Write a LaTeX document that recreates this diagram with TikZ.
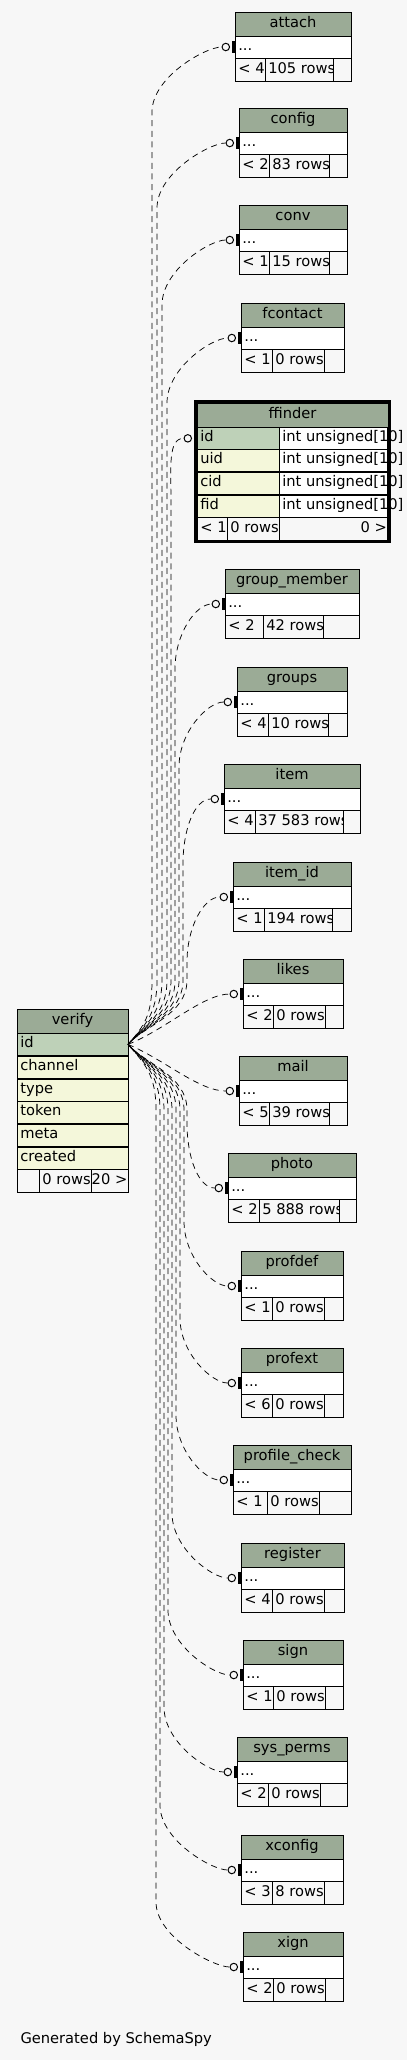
\documentclass[tikz,border=0pt]{standalone}
\usepackage{fontspec}
\setmainfont{DejaVu Sans}

\definecolor{pagebg}{HTML}{F7F7F7}
\definecolor{tblhead}{HTML}{9BAB96}
\definecolor{pkcol}{HTML}{BED1B8}
\definecolor{idxcol}{HTML}{F4F7DA}

\tikzstyle{cell} = [draw=black, line width=0.75pt, inner xsep=2.5pt, inner ysep=0pt, outer sep=0pt, anchor=north west, text height=7.5pt, text depth=2.25pt]
\tikzstyle{hd} = [cell, fill=tblhead, minimum height=18pt]
\tikzstyle{dots} = [cell, fill=white, minimum height=16.5pt]
\tikzstyle{ft} = [cell, fill=pagebg, minimum height=17.25pt]
\tikzstyle{keycol} = [cell, fill=pkcol, minimum height=17pt]
\tikzstyle{col} = [cell, fill=idxcol, minimum height=17pt]
\tikzstyle{typecol} = [cell, fill=white, minimum height=17pt]
\tikzstyle{rel} = [line width=0.55pt, dash pattern=on 4.5pt off 3.5pt]
\tikzstyle{crowo} = [line width=0.75pt, fill=pagebg]

\begin{document}
\begin{tikzpicture}[x=0.75pt, y=-0.75pt, font=\fontsize{11}{13}\selectfont]
  \fill[pagebg] (0,0) rectangle (407,2060);
  \useasboundingbox (0,0) rectangle (407,2060);

  % tables with columns hidden
  \foreach \n/\lbl/\x/\y/\w/\ca/\cb/\lt/\rows [evaluate=\w as \tw using \w*0.75-5, evaluate=\ca as \ta using \ca*0.75-5, evaluate=\cb as \tb using \cb*0.75-5, evaluate=\w as \rw using (\w-\ca-\cb)*0.75] in {
      attach/attach/235/12/116/30/68/< 4/105 rows,
      config/config/239/108/108/30/60/< 2/83 rows,
      conv/conv/239/205/108/30/60/< 1/15 rows,
      fcontact/fcontact/241/303/103/31/52/< 1/0 rows,
      groupmember/group\_member/225/569/134/38/60/< 2/42 rows,
      groups/groups/237/667/110/31/60/< 4/10 rows,
      item/item/224/764/136/31/88/< 4/37 583 rows,
      itemid/item\_id/233/862/118/31/68/< 1/194 rows,
      likes/likes/243/959/100/30/52/< 2/0 rows,
      mail/mail/239/1056/108/30/60/< 5/39 rows,
      photo/photo/228/1153/128/31/80/< 2/5 888 rows,
      profdef/profdef/241/1251/102/31/52/< 1/0 rows,
      profext/profext/241/1348/102/31/52/< 6/0 rows,
      profilecheck/profile\_check/233/1445/118/34/52/< 1/0 rows,
      register/register/241/1543/103/31/52/< 4/0 rows,
      sign/sign/243/1640/100/30/52/< 1/0 rows,
      sysperms/sys\_perms/237/1737/110/31/52/< 2/0 rows,
      xconfig/xconfig/241/1835/102/31/52/< 3/8 rows,
      xign/xign/243/1932/100/30/52/< 2/0 rows}
  {
    \node[hd, minimum width=\w*0.75pt] (\n-hd) at (\x,\y) {\lbl};
    \node[dots, minimum width=\w*0.75pt] (\n-dots) at (\x,\y+24) {\makebox[\tw pt][l]{...}};
    \node[ft] (\n-ft1) at (\x,\y+46) {\makebox[\ta pt][l]{\lt}};
    \node[ft] (\n-ft2) at (\x+\ca,\y+46) {\makebox[\tb pt][l]{\rows}};
    \node[ft, minimum width=\rw pt] (\n-ft3) at (\x+\ca+\cb,\y+46) {};
  }

  % verify
  \node[hd, minimum width=83.25pt] (verify-hd) at (17,1009) {verify};
  \node[keycol] (verify-id) at (17,1033) {\makebox[78.25pt][l]{id}};
  \foreach \c/\yy in {channel/1056, type/1079, token/1101, meta/1124, created/1147}
    \node[col] (verify-\c) at (17,\yy) {\makebox[78.25pt][l]{\c}};
  \node[ft, minimum width=16.5pt] (verify-ft1) at (17,1169) {};
  \node[ft] (verify-ft2) at (39,1169) {\makebox[34pt][l]{0 rows}};
  \node[ft, inner xsep=0.5pt] (verify-ft3) at (91,1169) {\makebox[26.75pt][r]{20 >}};

  % ffinder
  \node[hd, minimum width=143.25pt] (ffinder-hd) at (197,403) {ffinder};
  \node[keycol] (ffinder-id) at (197,427) {\makebox[56.75pt][l]{id}};
  \node[typecol] (ffinder-id-type) at (279,427) {\makebox[76.5pt][l]{int unsigned[10]}};
  \foreach \c/\yy in {uid/449, cid/472, fid/495} {
    \node[col] (ffinder-\c) at (197,\yy) {\makebox[56.75pt][l]{\c}};
    \node[typecol] (ffinder-\c-type) at (279,\yy) {\makebox[76.5pt][l]{int unsigned[10]}};
  }
  \node[ft] (ffinder-ft1) at (197,517) {\makebox[17.5pt][l]{< 1}};
  \node[ft] (ffinder-ft2) at (227,517) {\makebox[34pt][l]{0 rows}};
  \node[ft, inner xsep=0.5pt] (ffinder-ft3) at (279,517) {\makebox[80.5pt][r]{0 >}};
  \draw[line width=2.5pt] ([shift={(-1.7,-1.7)}]ffinder-hd.north west) rectangle ([shift={(1.7,1.7)}]ffinder-ft3.south east);

  % implied relations, up and down from verify.id
  \foreach \t/\ty/\xb in {attach-dots/47/152, config-dots/143/157, conv-dots/240/162, fcontact-dots/338/167, ffinder-id/438/171, groupmember-dots/604/175, groups-dots/702/179, item-dots/799/183, itemid-dots/897/187}
    \draw[rel, dash phase=\xb*0.7pt] (verify-id.east) .. controls (145,1025) and (\xb,1015) .. (\xb,980) -- (\xb,\ty+65)
      .. controls (\xb,\ty+30) and ([xshift=-22pt]\t.west) .. ([xshift=-10pt]\t.west);
  \foreach \t/\ty/\xb in {photo-dots/1188/187, profdef-dots/1286/184, profext-dots/1383/180, profilecheck-dots/1480/176, register-dots/1578/172, sign-dots/1675/168, sysperms-dots/1772/164, xconfig-dots/1870/160, xign-dots/1967/156}
    \draw[rel, dash phase=\xb*0.7pt] (verify-id.east) .. controls (145,1064) and (\xb,1075) .. (\xb,1110) -- (\xb,\ty-65)
      .. controls (\xb,\ty-30) and ([xshift=-22pt]\t.west) .. ([xshift=-10pt]\t.west);
  \draw[rel] (verify-id.east) .. controls (165,1030) and ([xshift=-30pt]likes-dots.west) .. ([xshift=-10pt]likes-dots.west);
  \draw[rel] (verify-id.east) .. controls (165,1060) and ([xshift=-30pt]mail-dots.west) .. ([xshift=-10pt]mail-dots.west);

  % zero-or-one ends
  \foreach \t in {attach-dots, config-dots, conv-dots, fcontact-dots, ffinder-id, groupmember-dots, groups-dots, item-dots, itemid-dots, likes-dots, mail-dots, photo-dots, profdef-dots, profext-dots, profilecheck-dots, register-dots, sign-dots, sysperms-dots, xconfig-dots, xign-dots} {
    \fill ([shift={(-3.4,-5.7)}]\t.west) rectangle ([shift={(0,5.7)}]\t.west);
    \draw[crowo] ([xshift=-6.9pt]\t.west) circle[radius=2.8pt];
  }

  \node[anchor=base west] (gen) at (15.8,2043.3) {Generated by SchemaSpy};
\end{tikzpicture}
\end{document}
